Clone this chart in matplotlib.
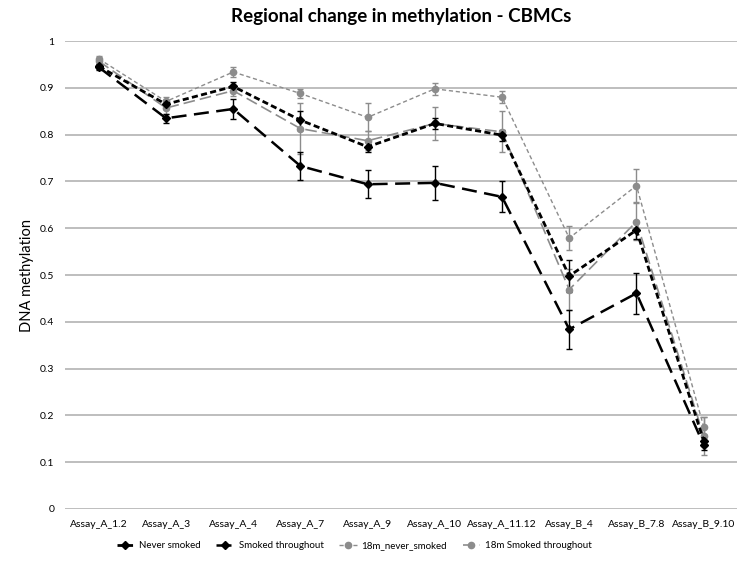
import matplotlib.pyplot as plt
from matplotlib.lines import Line2D
import numpy as np

plt.rcParams['font.family'] = ['Lato', 'DejaVu Sans']

assays = ["Assay_A_1.2", "Assay_A_3", "Assay_A_4", "Assay_A_7", "Assay_A_9",
          "Assay_A_10", "Assay_A_11.12", "Assay_B_4", "Assay_B_7.8", "Assay_B_9.10"]

never_smoked = [0.946, 0.865, 0.903, 0.831, 0.774, 0.824, 0.799, 0.498, 0.596, 0.146]
never_smoked_err = [0.006, 0.01, 0.01, 0.02, 0.01, 0.012, 0.012, 0.035, 0.02, 0.012]

smoked = [0.944, 0.835, 0.855, 0.733, 0.694, 0.697, 0.667, 0.384, 0.461, 0.137]
smoked_err = [0.005, 0.01, 0.021, 0.029, 0.03, 0.036, 0.033, 0.042, 0.044, 0.01]

m18_never = [0.962, 0.871, 0.934, 0.888, 0.837, 0.898, 0.880, 0.579, 0.691, 0.176]
m18_never_err = [0.006, 0.01, 0.01, 0.01, 0.03, 0.013, 0.013, 0.025, 0.035, 0.02]

m18_smoked = [0.957, 0.857, 0.894, 0.813, 0.787, 0.824, 0.806, 0.469, 0.614, 0.156]
m18_smoked_err = [0.006, 0.012, 0.012, 0.055, 0.02, 0.035, 0.044, 0.043, 0.04, 0.04]

fig = plt.figure(figsize=(7.5, 5.63), dpi=100)
ax = fig.add_axes([0.087, 0.096, 0.896, 0.831])

x = np.arange(len(assays))
grey = "#8c8c8c"

styles = [
    (m18_never, m18_never_err, grey, 1.0, (0, (3, 2)), "o", "18m_never_smoked"),
    (m18_smoked, m18_smoked_err, grey, 1.2, (0, (7, 3)), "o", "18m Smoked throughout"),
    (never_smoked, never_smoked_err, "black", 2.0, (0, (2.2, 1.2)), "D", "Never smoked"),
    (smoked, smoked_err, "black", 1.8, (0, (6, 3)), "D", "Smoked throughout"),
]
for vals, err, c, lw, ls, mk, lab in styles:
    ax.errorbar(x, vals, yerr=err, color=c, lw=lw, ls=ls, marker=mk, ms=4.5,
                capsize=2.5, elinewidth=1)

ax.set_xlim(-0.5, len(assays) - 0.5)
ax.set_ylim(0, 1)
ax.set_yticks(np.arange(0, 1.01, 0.1))
ax.set_yticklabels(["0", "0.1", "0.2", "0.3", "0.4", "0.5", "0.6", "0.7", "0.8", "0.9", "1"])
ax.set_xticks(x)
ax.set_xticklabels(assays)
ax.tick_params(length=0, labelsize=7.5, pad=8)
ax.grid(axis="y", color="#b3b3b3", lw=1.2)
ax.set_axisbelow(True)
for s in ax.spines.values():
    s.set_visible(False)

ax.set_ylabel("DNA methylation", fontsize=10.5)
ax.set_title("Regional change in methylation - CBMCs", fontsize=13.5, fontweight="bold", pad=14)

order = [2, 3, 0, 1]
handles = [Line2D([], [], color=styles[i][2], lw=styles[i][3], ls=styles[i][4],
                  marker=styles[i][5], ms=4.5) for i in order]
labels = [styles[i][6] for i in order]
ax.legend(handles, labels, loc="upper center", bbox_to_anchor=(0.43, -0.05), ncol=4,
          frameon=False, fontsize=7, handlelength=1.8, handletextpad=0.5, columnspacing=1.6)

fig.savefig("out.png", dpi=100)
